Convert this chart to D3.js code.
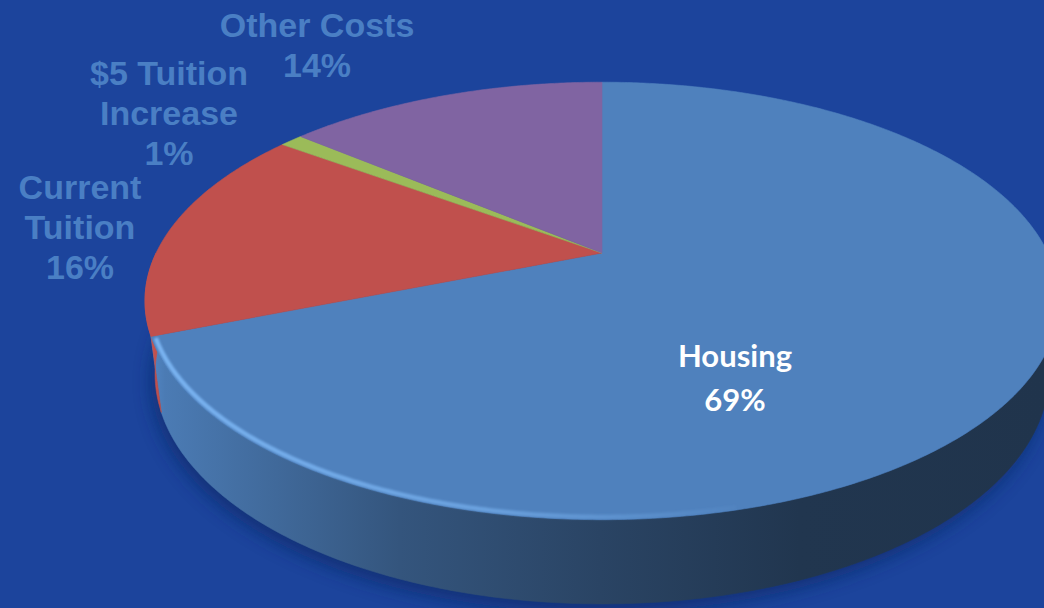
<!DOCTYPE html>
<html>
<head>
<meta charset="utf-8">
<script src="https://cdn.jsdelivr.net/npm/d3@7"></script>
<style>
  html, body { margin: 0; padding: 0; background: #1c449c; }
  svg { display: block; }
</style>
</head>
<body>
<script>
// Share of the yearly cost of attendance
const categories = ["Housing", "Current\nTuition", "$5 Tuition\nIncrease", "Other Costs"];
const shares = [69, 16, 1, 14];
const colors = ["#4f81bd", "#c0504d", "#9bbb59", "#8064a2"];

// Where the outside labels sit (centre x, first baseline y)
const labelAnchors = [
  { x: 735, y: 367, inside: true },
  { x: 80, y: 199 },
  { x: 169, y: 85 },
  { x: 317, y: 37 }
];

const W = 1044, H = 608;
const svg = d3.select("body").append("svg").attr("width", W).attr("height", H);
const defs = svg.append("defs");

svg.append("rect").attr("width", W).attr("height", H).attr("fill", "#1c449c");

// Perspective view of a flat disc, radius 1, seen from above at an angle
const cx = 602, cy = 253, focal = 445.9, camDist = 4.036;
const sinT = 0.467, cosT = Math.sqrt(1 - sinT * sinT);
const thickness = 0.186;

function project(theta, yh, r = 1) {
  const px = r * Math.sin(theta), pz = -r * Math.cos(theta);
  const d = 1 + (-yh * sinT - pz * cosT) / camDist;
  return [cx + focal * px / d, cy - focal * (yh * cosT - pz * sinT) / d];
}
function arcPoints(a0, a1, yh, r = 1) {
  const n = Math.max(2, Math.ceil(Math.abs(a1 - a0) / (Math.PI / 360)));
  return d3.range(n + 1).map(i => project(a0 + (a1 - a0) * i / n, yh, r));
}
const line = d3.line();

const pie = d3.pie().sort(null).value(d => d).startAngle(0).endAngle(2 * Math.PI);
const arcs = pie(shares);

// Soft shadow under the disc
const shadow = defs.append("filter").attr("id", "shadow")
  .attr("x", "-20%").attr("y", "-20%").attr("width", "140%").attr("height", "140%");
shadow.append("feGaussianBlur").attr("stdDeviation", 9);
svg.append("path")
  .attr("d", line(arcPoints(0, 2 * Math.PI, -thickness - 0.01)) + "Z")
  .attr("transform", "translate(-4,4)")
  .attr("fill", "#0f2c6a")
  .attr("opacity", 0.75)
  .attr("filter", "url(#shadow)");

// Wall shading: lit from the left, falling into shade on the right
const shadeStops = [[140, 1.1], [165, 0.95], [400, 0.66], [600, 0.53], [800, 0.42], [1044, 0.4]];
function shadeColor(base, f) {
  const c = d3.rgb(base);
  const m = v => Math.max(0, Math.min(255, Math.round(v * f)));
  return d3.rgb(m(c.r), m(c.g), m(c.b)).formatHex();
}
arcs.forEach((a, i) => {
  const g = defs.append("linearGradient").attr("id", "wall" + i)
    .attr("gradientUnits", "userSpaceOnUse")
    .attr("x1", 140).attr("x2", 1044).attr("y1", 0).attr("y2", 0);
  shadeStops.forEach(([x, f]) => {
    g.append("stop").attr("offset", (x - 140) / (1044 - 140)).attr("stop-color", shadeColor(colors[i], f));
  });
});

// Outer walls of the near half
const wallLayer = svg.append("g");
arcs.forEach((a, i) => {
  const lo = Math.max(a.startAngle, Math.PI / 2), hi = Math.min(a.endAngle, 3 * Math.PI / 2);
  if (lo >= hi) return;
  const pts = arcPoints(lo, hi, 0).concat(arcPoints(hi, lo, -thickness));
  wallLayer.append("path")
    .attr("d", line(pts) + "Z")
    .attr("fill", `url(#wall${i})`)
    .attr("stroke", `url(#wall${i})`)
    .attr("stroke-width", 0.6);
});

// Top faces
const apex = project(0, 0, 0);
const topLayer = svg.append("g");
arcs.forEach((a, i) => {
  const pts = [apex].concat(arcPoints(a.startAngle, a.endAngle, 0));
  topLayer.append("path")
    .attr("d", line(pts) + "Z")
    .attr("fill", colors[i])
    .attr("stroke", colors[i])
    .attr("stroke-width", 0.6);
});

// Bevel highlight along the front rim
const hl = defs.append("linearGradient").attr("id", "rimLight")
  .attr("gradientUnits", "userSpaceOnUse").attr("x1", 150).attr("x2", 760).attr("y1", 0).attr("y2", 0);
hl.append("stop").attr("offset", 0).attr("stop-color", "#7cb6f4").attr("stop-opacity", 0.95);
hl.append("stop").attr("offset", 0.55).attr("stop-color", "#7cb6f4").attr("stop-opacity", 0.6);
hl.append("stop").attr("offset", 1).attr("stop-color", "#7cb6f4").attr("stop-opacity", 0);
const soft = defs.append("filter").attr("id", "soft");
soft.append("feGaussianBlur").attr("stdDeviation", 0.9);
svg.append("path")
  .attr("d", line(arcPoints(arcs[0].endAngle - 0.01, 2.9, 0, 0.992)))
  .attr("fill", "none")
  .attr("stroke", "url(#rimLight)")
  .attr("stroke-width", 4.5)
  .attr("filter", "url(#soft)");

// Labels
const labelLayer = svg.append("g");
arcs.forEach((a, i) => {
  const pos = labelAnchors[i];
  const lines = categories[i].split("\n").concat([shares[i] + "%"]);
  const t = labelLayer.append("text")
    .attr("text-anchor", "middle")
    .attr("fill", pos.inside ? "#ffffff" : "#4a7fc4")
    .attr("font-family", pos.inside ? "Lato, 'Open Sans', sans-serif" : "'Liberation Sans', Arial, sans-serif")
    .attr("font-weight", 700)
    .attr("font-size", pos.inside ? 31 : 34);
  lines.forEach((s, k) => {
    t.append("tspan")
      .attr("x", pos.x)
      .attr("y", pos.y + k * (pos.inside ? 44 : 40))
      .text(s);
  });
});
</script>
</body>
</html>
